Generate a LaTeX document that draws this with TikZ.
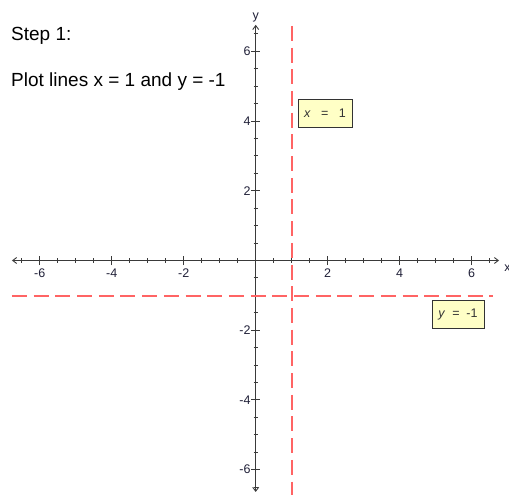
\documentclass[tikz,border=0pt]{standalone}
\usepackage{fontspec}
\setmainfont{Liberation Sans}
\usetikzlibrary{arrows.meta}
\definecolor{axisgray}{HTML}{3A3A3A}
\definecolor{boxfill}{HTML}{FFFFC6}
\definecolor{ticklab}{HTML}{202038}
\definecolor{lineRed}{RGB}{255,100,100}
\tikzset{
  axisline/.style={draw=axisgray, line width=0.9pt},
  axistip/.style={axisline, {Straight Barb[length=4pt,width=6pt]}-{Straight Barb[length=4pt,width=6pt]}},
  plotline/.style={draw=lineRed, line width=1.9pt, dash pattern={on 15pt off 6.7pt}},
  labelbox/.style={draw=black!80, fill=boxfill, line width=0.8pt, minimum width=54pt, minimum height=28pt, inner sep=0pt, font=\fontsize{12.5}{14}\selectfont, text=black!80},
  ticklabel/.style={font=\fontsize{12.5}{14}\selectfont, text=ticklab, inner sep=0pt},
  titletext/.style={anchor=base west, inner sep=0pt, font=\fontsize{19}{22}\selectfont}
}
\begin{document}
\begin{tikzpicture}[x=1pt,y=1pt]
\useasboundingbox (0,0) rectangle (509,-495);
\fill[white] (0,0) rectangle (509,-495);
\node[titletext] (step) at (11,-41) {Step 1:};
\node[titletext] (plot) at (11,-86) {Plot lines x = 1 and y = -1};
\begin{scope}[shift={(255.7,-260.5)}, x=36pt, y=34.86pt]
  \coordinate (xl) at (-6.77,0);
  \coordinate (xr) at (6.76,0);
  \coordinate (yt) at (0,6.76);
  \coordinate (yb) at (0,-6.64);
  \draw[axistip] (xl) -- (xr);
  \draw[axistip] (yb) -- (yt);
  % minor ticks
  \foreach \t in {-6.5,-6,...,6.6} {
    \draw[axisline] (\t,0) ++(0,-2.2pt) -- ++(0,4.4pt);
    \draw[axisline] (0,\t) ++(-2.2pt,0) -- ++(4.4pt,0);
  }
  % major ticks and labels
  \foreach \t in {-6,-4,-2,2,4,6} {
    \draw[axisline] (\t,0) ++(0,-4.5pt) -- ++(0,9pt);
    \draw[axisline] (0,\t) ++(-4.5pt,0) -- ++(9pt,0);
    \node[ticklabel, anchor=north] (xt\t) at ([yshift=-8pt]\t,0) {\t};
    \node[ticklabel, anchor=east] (yt\t) at ([xshift=-5pt]0,\t) {\t};
  }
  \node[ticklabel, anchor=west] (xname) at ([xshift=5pt,yshift=-8pt]xr) {x};
  \node[ticklabel, anchor=south] (yname) at ([yshift=3pt]yt) {y};
  % plotted lines
  \coordinate (vt) at (1,6.73);
  \coordinate (vb) at (1,-6.75);
  \coordinate (hl) at (-6.77,-1.01);
  \coordinate (hr) at (6.59,-1.01);
  \draw[plotline] (vt) -- (vb);
  \draw[plotline] (hl) -- (hr);
  \node[labelbox] (boxx) at (1.925,4.23) {\textit{x}\ \ \ =\ \ \ 1};
  \node[labelbox, minimum width=52pt] (boxy) at (5.62,-1.56) {\textit{y}\ \ =\ \ -1};
\end{scope}
\end{tikzpicture}
\end{document}
